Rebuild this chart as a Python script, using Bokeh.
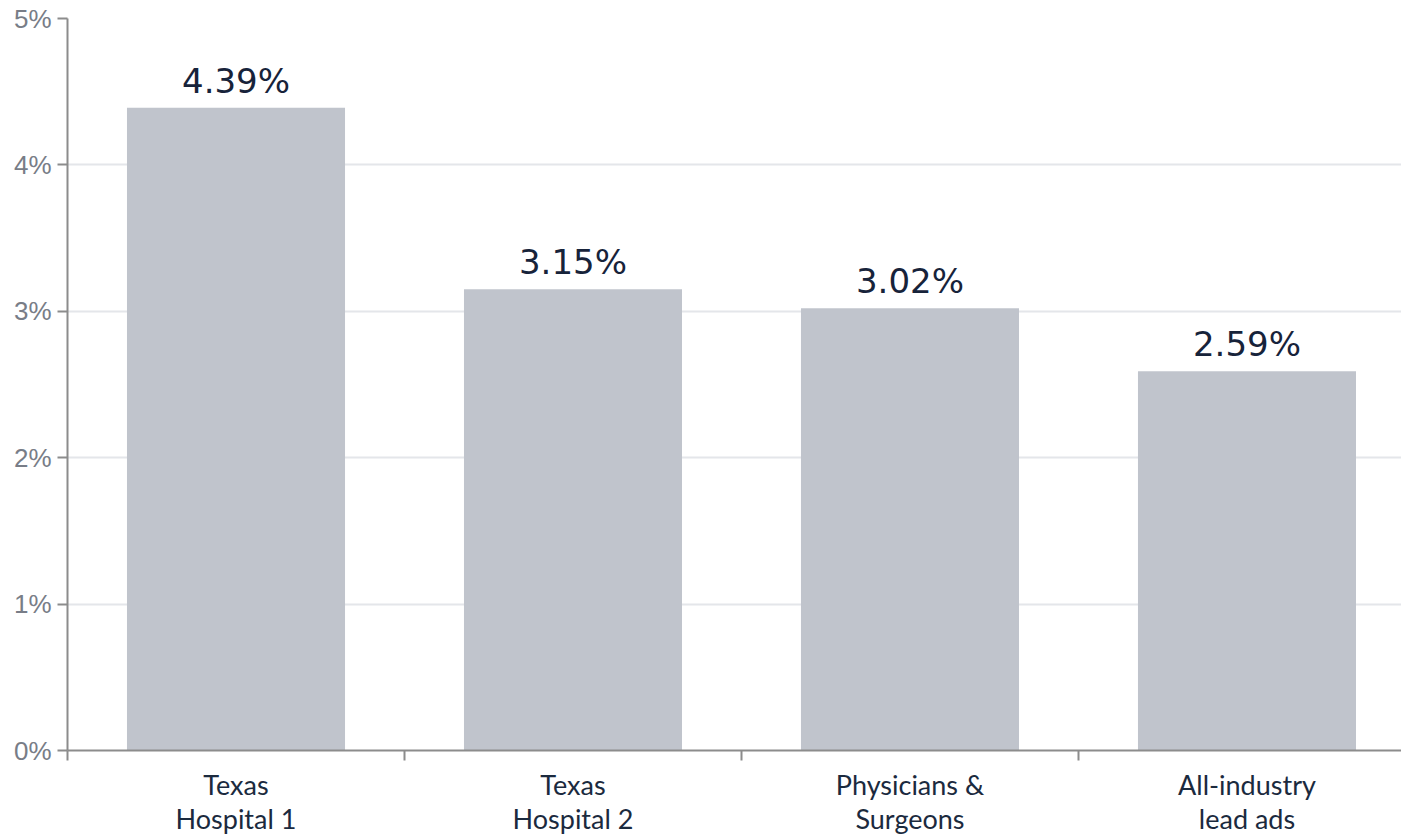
from bokeh.plotting import figure
from bokeh.models import Range1d, FixedTicker, ColumnDataSource
from bokeh.core.properties import value
from bokeh.embed import file_html
from bokeh.resources import INLINE

# Lead form conversion rates by group
categories = ["Texas\nHospital 1", "Texas\nHospital 2", "Physicians &\nSurgeons", "All-industry\nlead ads"]
rates = [4.39, 3.15, 3.02, 2.59]
y_ticks = [0, 1, 2, 3, 4, 5]
y_tick_labels = ["0%", "1%", "2%", "3%", "4%", "5%"]

centers = [i + 0.5 for i in range(len(categories))]
src = ColumnDataSource(dict(
    x=centers,
    top=rates,
    label=[f"{r:.2f}%" for r in rates],
))

p = figure(
    width=1401, height=839,
    x_range=Range1d(0, 3.9585), y_range=Range1d(0, 5),
    output_backend="svg", toolbar_location=None,
    min_border_left=67, min_border_right=0, min_border_top=18, min_border_bottom=89,
)
p.outline_line_color = None
p.background_fill_color = "white"
p.border_fill_color = "white"

p.vbar(x="x", top="top", width=0.647, bottom=0, source=src,
       fill_color="#c0c4cc", line_color=None)

p.text(x="x", y="top", text="label", source=src,
       text_align="center", text_baseline="bottom", y_offset=-7,
       text_font=value("DejaVu Sans"), text_font_size="34px", text_color="#17233a")

# grid
p.xgrid.grid_line_color = None
p.ygrid.ticker = FixedTicker(ticks=y_ticks)
p.ygrid.grid_line_color = "#e4e6ea"
p.ygrid.grid_line_width = 2

# y axis
ya = p.yaxis[0]
ya.ticker = FixedTicker(ticks=y_ticks)
ya.major_label_overrides = {t: s for t, s in zip(y_ticks, y_tick_labels)}
ya.axis_line_color = "#8c8c8c"
ya.axis_line_width = 2
ya.major_tick_line_color = "#8c8c8c"
ya.major_tick_line_width = 2
ya.major_tick_out = 10
ya.major_tick_in = 0
ya.minor_tick_line_color = None
ya.major_label_text_font = "Liberation Sans"
ya.major_label_text_font_size = "26px"
ya.major_label_text_color = "#787d87"
ya.major_label_standoff = 6

# x axis: boundary ticks as minor ticks, category names at bar centers
xa = p.xaxis[0]
xa.ticker = FixedTicker(ticks=centers, minor_ticks=[0, 1, 2, 3])
xa.major_label_overrides = {c: s for c, s in zip(centers, categories)}
xa.axis_line_color = "#8c8c8c"
xa.axis_line_width = 2
xa.major_tick_line_color = None
xa.major_tick_out = 0
xa.major_tick_in = 0
xa.minor_tick_line_color = "#8c8c8c"
xa.minor_tick_line_width = 2
xa.minor_tick_out = 10
xa.minor_tick_in = 0
xa.major_label_text_font = "Lato"
xa.major_label_text_font_size = "27px"
xa.major_label_text_line_height = 1.05
xa.major_label_text_color = "#1b2a3e"
xa.major_label_standoff = 7

open("out.html", "w").write(file_html(p, INLINE))
